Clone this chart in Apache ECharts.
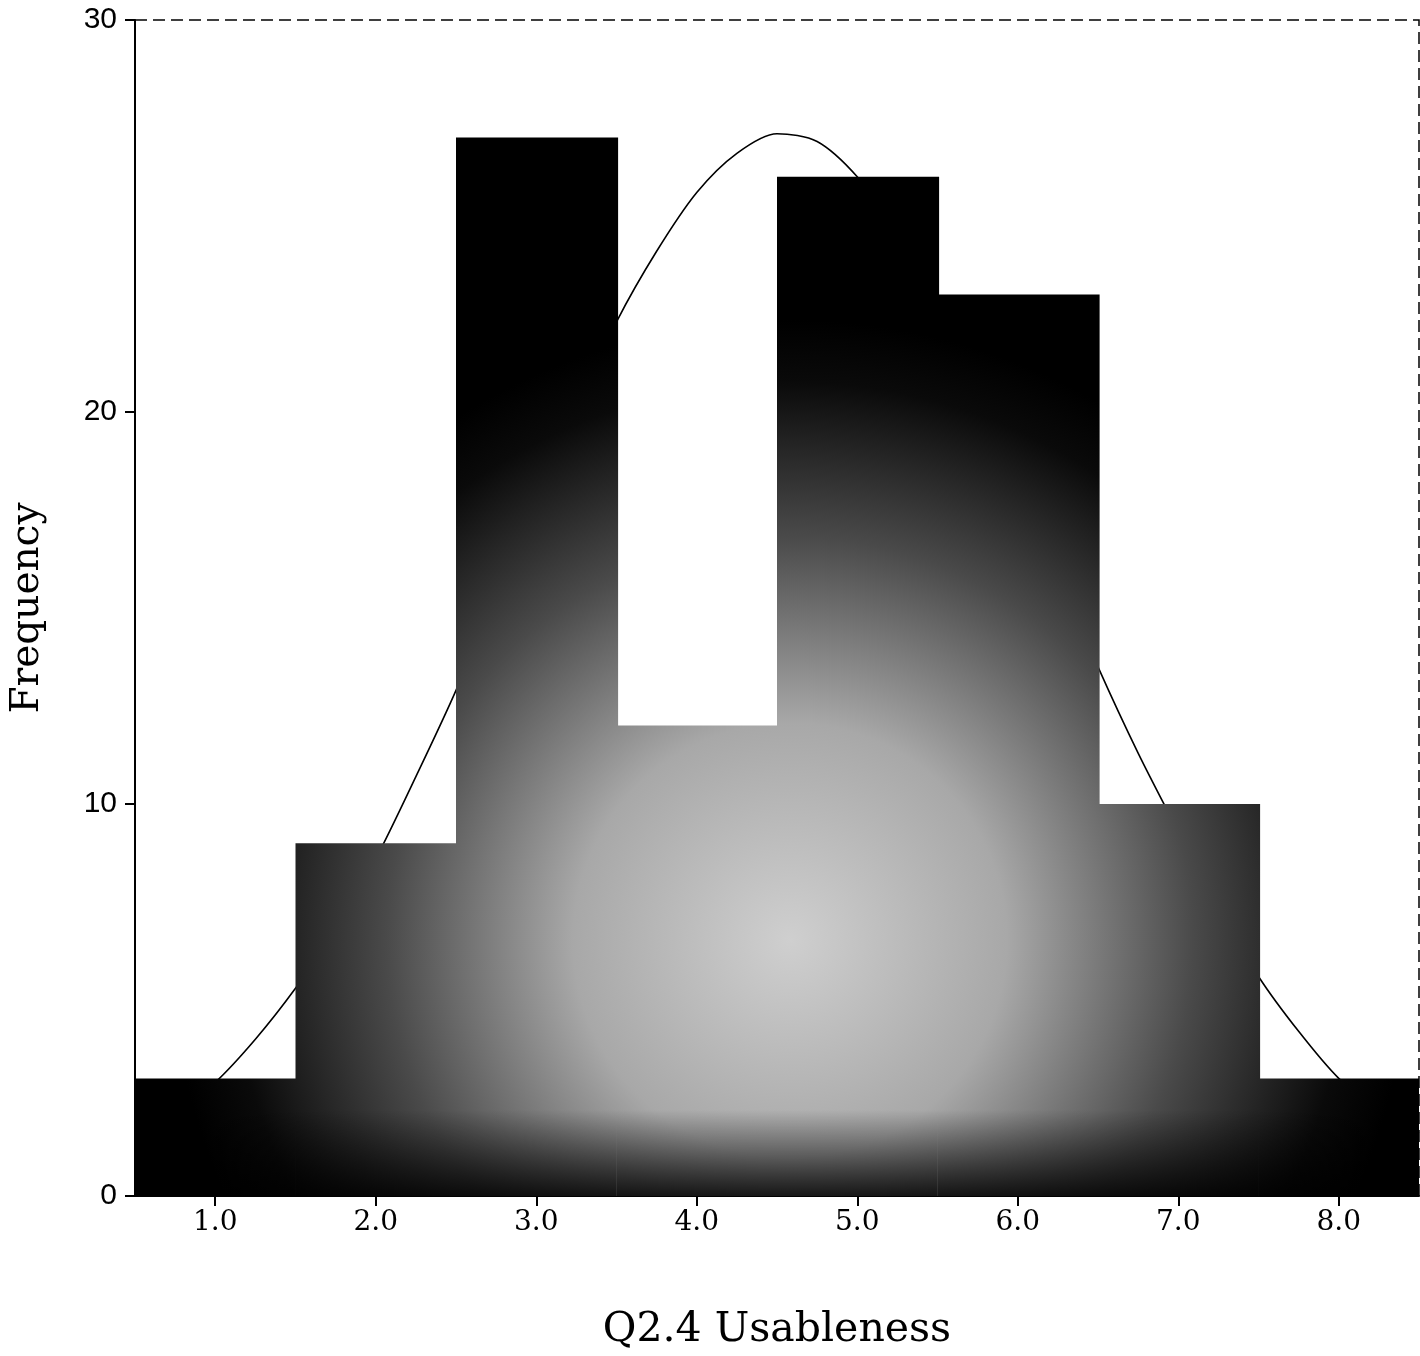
<!DOCTYPE html>
<html>
<head>
<meta charset="utf-8">
<script src="https://cdn.jsdelivr.net/npm/echarts@6/dist/echarts.min.js"></script>
<style>
html,body{margin:0;padding:0;background:#fff;}
#chart{width:1420px;height:1356px;}
</style>
</head>
<body>
<div id="chart"></div>
<script>
// Histogram bins (centres) and frequencies
var categories = ['1.0','2.0','3.0','4.0','5.0','6.0','7.0','8.0'];
var frequencies = [3, 9, 27, 12, 26, 23, 10, 3];
// Normal curve (x, frequency)
var curveX = [0.5, 0.75, 1.0, 1.25, 1.5, 1.75, 2.0, 2.25, 2.5, 2.75, 3.0, 3.25, 3.5, 3.75, 4.0, 4.25, 4.5, 4.75, 5.0, 5.25, 5.5, 5.75, 6.0, 6.25, 6.5, 6.75, 7.0, 7.25, 7.5, 7.75, 8.0, 8.25, 8.5];
var curveY = [1.5, 2.1, 2.9, 4.0, 5.3, 6.8, 8.6, 10.7, 12.9, 15.4, 17.8, 20.1, 22.3, 24.1, 25.6, 26.6, 27.1, 26.9, 26.0, 24.6, 22.8, 20.6, 18.3, 15.9, 13.5, 11.3, 9.3, 7.35, 5.6, 4.2, 3.0, 2.2, 1.6];
var yTicks = [0, 10, 20, 30];

var chart = echarts.init(document.getElementById('chart'), null, {renderer: 'canvas'});

var curveData = curveX.map(function (x, i) { return [x, curveY[i]]; });

var serif = 'DejaVu Serif';

var option = {
  backgroundColor: '#ffffff',
  animation: false,
  grid: {
    left: 132, right: 1, top: 20, bottom: 154,
    show: true, borderColor: '#000', borderWidth: 1.5, borderType: [12, 6],
    backgroundColor: 'transparent'
  },
  xAxis: [{
    type: 'category',
    data: categories,
    boundaryGap: true,
    axisLine: {show: true, lineStyle: {color: '#000', width: 2}},
    axisTick: {show: true, alignWithLabel: true, length: 10, lineStyle: {color: '#000', width: 2}},
    axisLabel: {color: '#000', fontFamily: serif, fontSize: 28, margin: 13},
    splitLine: {show: false},
    name: 'Q2.4 Usableness',
    nameLocation: 'middle',
    nameGap: 114,
    nameTextStyle: {color: '#000', fontFamily: serif, fontSize: 41}
  }, {
    type: 'value',
    min: 0.5, max: 8.5,
    show: false
  }],
  yAxis: {
    type: 'value',
    min: yTicks[0], max: yTicks[yTicks.length - 1], interval: 10,
    axisLine: {show: true, lineStyle: {color: '#000', width: 2}},
    axisTick: {show: true, length: 10, lineStyle: {color: '#000', width: 2}},
    axisLabel: {color: '#000', fontFamily: 'Liberation Sans', fontSize: 30, margin: 18},
    splitLine: {show: false},
    name: 'Frequency',
    nameLocation: 'middle',
    nameGap: 88,
    nameRotate: 90,
    nameTextStyle: {color: '#000', fontFamily: serif, fontSize: 39}
  },
  series: [{
    type: 'line',
    xAxisIndex: 1,
    data: curveData,
    smooth: 0.3,
    symbol: 'none',
    lineStyle: {color: '#000', width: 1.6},
    z: 1
  }, {
    type: 'bar',
    xAxisIndex: 0,
    data: frequencies,
    barWidth: '101%',
    barGap: '-100%',
    itemStyle: {
      color: {
        type: 'radial', x: 790, y: 940, r: 620, global: true,
        colorStops: [
          {offset: 0, color: '#cfcfcf'},
          {offset: 0.35, color: '#a8a8a8'},
          {offset: 0.65, color: '#4a4a4a'},
          {offset: 0.9, color: '#0a0a0a'},
          {offset: 1, color: '#000'}
        ]
      }
    },
    z: 3
  }, {
    type: 'bar',
    xAxisIndex: 0,
    data: frequencies,
    barWidth: '100%',
    barGap: '-100%',
    silent: true,
    itemStyle: {
      color: {
        type: 'linear', x: 0, y: 1110, x2: 0, y2: 1202, global: true,
        colorStops: [
          {offset: 0, color: 'rgba(0,0,0,0)'},
          {offset: 1, color: 'rgba(0,0,0,0.9)'}
        ]
      }
    },
    z: 4
  }]
};
chart.setOption(option);
</script>
</body>
</html>
